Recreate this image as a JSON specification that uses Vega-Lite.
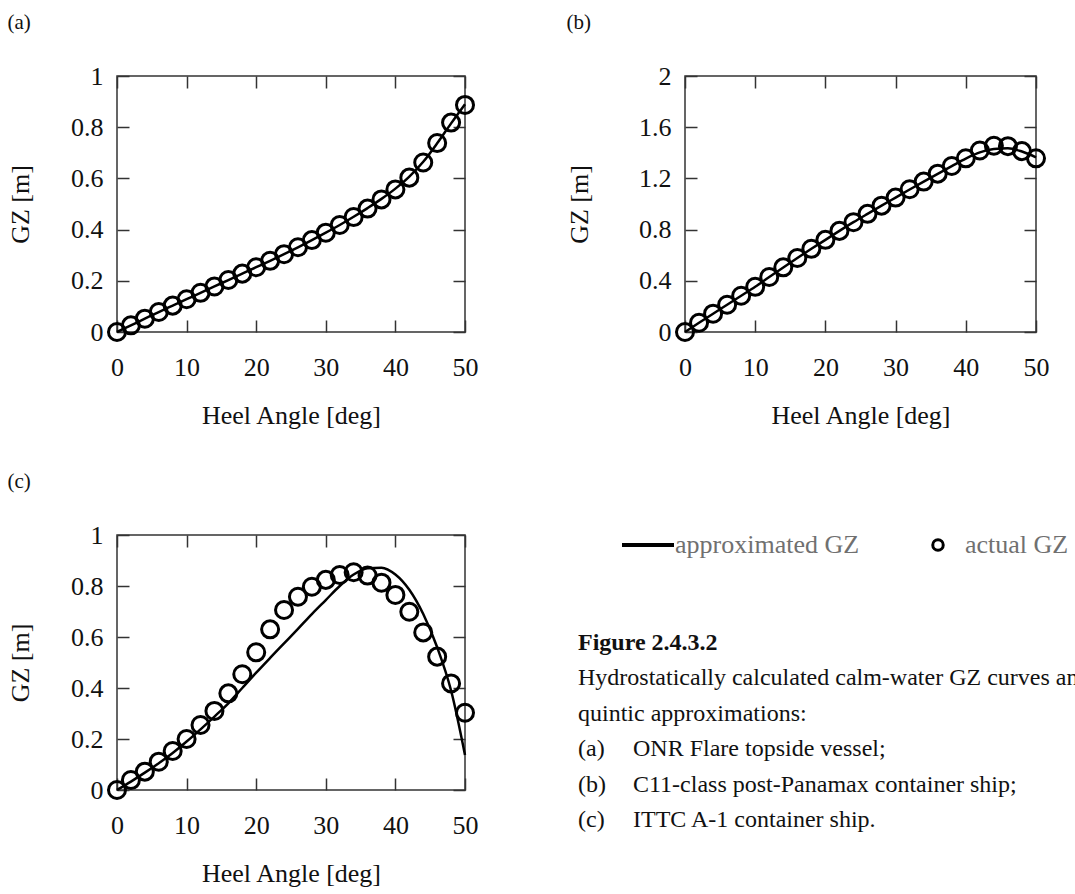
{
  "$schema": "https://vega.github.io/schema/vega-lite/v6.json",
  "padding": {"left": 6, "top": 11, "right": 5, "bottom": 5},
  "background": "white",
  "datasets": {
    "a": [
      {"deg": 0, "actual": 0.0, "approx": 0.0},
      {"deg": 2, "actual": 0.026, "approx": 0.026},
      {"deg": 4, "actual": 0.052, "approx": 0.052},
      {"deg": 6, "actual": 0.078, "approx": 0.078},
      {"deg": 8, "actual": 0.103, "approx": 0.103},
      {"deg": 10, "actual": 0.128, "approx": 0.128},
      {"deg": 12, "actual": 0.153, "approx": 0.153},
      {"deg": 14, "actual": 0.178, "approx": 0.178},
      {"deg": 16, "actual": 0.203, "approx": 0.203},
      {"deg": 18, "actual": 0.228, "approx": 0.228},
      {"deg": 20, "actual": 0.253, "approx": 0.253},
      {"deg": 22, "actual": 0.278, "approx": 0.278},
      {"deg": 24, "actual": 0.304, "approx": 0.304},
      {"deg": 26, "actual": 0.331, "approx": 0.331},
      {"deg": 28, "actual": 0.359, "approx": 0.359},
      {"deg": 30, "actual": 0.388, "approx": 0.388},
      {"deg": 32, "actual": 0.418, "approx": 0.418},
      {"deg": 34, "actual": 0.449, "approx": 0.45},
      {"deg": 36, "actual": 0.482, "approx": 0.484},
      {"deg": 38, "actual": 0.518, "approx": 0.52},
      {"deg": 40, "actual": 0.557, "approx": 0.56},
      {"deg": 42, "actual": 0.603, "approx": 0.607},
      {"deg": 44, "actual": 0.662, "approx": 0.665},
      {"deg": 46, "actual": 0.738, "approx": 0.737},
      {"deg": 48, "actual": 0.818, "approx": 0.815},
      {"deg": 50, "actual": 0.887, "approx": 0.89}
    ],
    "b": [
      {"deg": 0, "actual": 0.0, "approx": 0.0},
      {"deg": 2, "actual": 0.072, "approx": 0.072},
      {"deg": 4, "actual": 0.143, "approx": 0.143},
      {"deg": 6, "actual": 0.213, "approx": 0.213},
      {"deg": 8, "actual": 0.283, "approx": 0.283},
      {"deg": 10, "actual": 0.353, "approx": 0.353},
      {"deg": 12, "actual": 0.43, "approx": 0.429},
      {"deg": 14, "actual": 0.505, "approx": 0.504},
      {"deg": 16, "actual": 0.578, "approx": 0.578},
      {"deg": 18, "actual": 0.65, "approx": 0.65},
      {"deg": 20, "actual": 0.72, "approx": 0.72},
      {"deg": 22, "actual": 0.79, "approx": 0.79},
      {"deg": 24, "actual": 0.858, "approx": 0.858},
      {"deg": 26, "actual": 0.923, "approx": 0.923},
      {"deg": 28, "actual": 0.987, "approx": 0.987},
      {"deg": 30, "actual": 1.05, "approx": 1.05},
      {"deg": 32, "actual": 1.115, "approx": 1.113},
      {"deg": 34, "actual": 1.175, "approx": 1.175},
      {"deg": 36, "actual": 1.237, "approx": 1.236},
      {"deg": 38, "actual": 1.297, "approx": 1.296},
      {"deg": 40, "actual": 1.357, "approx": 1.355},
      {"deg": 42, "actual": 1.418, "approx": 1.403},
      {"deg": 44, "actual": 1.455, "approx": 1.43},
      {"deg": 46, "actual": 1.452, "approx": 1.435},
      {"deg": 48, "actual": 1.413, "approx": 1.41},
      {"deg": 50, "actual": 1.357, "approx": 1.365}
    ],
    "c": [
      {"deg": 0, "actual": 0.0, "approx": 0.0},
      {"deg": 2, "actual": 0.039, "approx": 0.033},
      {"deg": 4, "actual": 0.072, "approx": 0.068},
      {"deg": 6, "actual": 0.111, "approx": 0.105},
      {"deg": 8, "actual": 0.153, "approx": 0.145},
      {"deg": 10, "actual": 0.2, "approx": 0.19},
      {"deg": 12, "actual": 0.255, "approx": 0.238},
      {"deg": 14, "actual": 0.31, "approx": 0.288},
      {"deg": 16, "actual": 0.379, "approx": 0.34},
      {"deg": 18, "actual": 0.454, "approx": 0.4},
      {"deg": 20, "actual": 0.54, "approx": 0.46},
      {"deg": 22, "actual": 0.63, "approx": 0.518},
      {"deg": 24, "actual": 0.706, "approx": 0.575},
      {"deg": 26, "actual": 0.758, "approx": 0.632},
      {"deg": 28, "actual": 0.797, "approx": 0.69},
      {"deg": 30, "actual": 0.824, "approx": 0.745},
      {"deg": 32, "actual": 0.843, "approx": 0.8},
      {"deg": 34, "actual": 0.854, "approx": 0.845},
      {"deg": 36, "actual": 0.841, "approx": 0.87},
      {"deg": 38, "actual": 0.813, "approx": 0.872},
      {"deg": 40, "actual": 0.765, "approx": 0.845},
      {"deg": 42, "actual": 0.699, "approx": 0.785},
      {"deg": 44, "actual": 0.618, "approx": 0.69},
      {"deg": 46, "actual": 0.523, "approx": 0.56},
      {"deg": 48, "actual": 0.418, "approx": 0.39},
      {"deg": 50, "actual": 0.303, "approx": 0.137}
    ],
    "caption": [
      {"row": 1, "col": 0, "bold": true, "text": "Figure 2.4.3.2"},
      {"row": 2, "col": 0, "bold": false, "text": "Hydrostatically calculated calm-water GZ curves and"},
      {"row": 3, "col": 0, "bold": false, "text": "quintic approximations:"},
      {"row": 4, "col": 0, "bold": false, "text": "(a)"},
      {"row": 4, "col": 1, "bold": false, "text": "ONR Flare topside vessel;"},
      {"row": 5, "col": 0, "bold": false, "text": "(b)"},
      {"row": 5, "col": 1, "bold": false, "text": "C11-class post-Panamax container ship;"},
      {"row": 6, "col": 0, "bold": false, "text": "(c)"},
      {"row": 6, "col": 1, "bold": false, "text": "ITTC A-1 container ship."}
    ]
  },
  "vconcat": [
    {
      "spacing": 84,
      "hconcat": [
        {
          "title": {"text": "(a)"},
          "width": 348,
          "height": 256,
          "data": {"name": "a"},
          "layer": [
            {
              "mark": {"type": "line", "strokeWidth": 2.5, "interpolate": "monotone"},
              "encoding": {
                "x": {"field": "deg", "type": "quantitative", "scale": {"domain": [0, 50]},
                      "axis": {"orient": "bottom", "title": "Heel Angle [deg]", "values": [0, 10, 20, 30, 40, 50]}},
                "y": {"field": "approx", "type": "quantitative", "scale": {"domain": [0, 1]},
                      "axis": {"orient": "left", "title": "GZ [m]", "values": [0, 0.2, 0.4, 0.6, 0.8, 1], "labelExpr": "datum.value + ''"}},
                "color": {
                  "datum": "approximated GZ", "type": "nominal",
                  "scale": {"domain": ["approximated GZ", "actual GZ"], "range": ["#000000", "#000000"]},
                  "legend": {
                    "orient": "none", "legendX": 518, "legendY": 456, "direction": "horizontal",
                    "title": null, "padding": 0, "labelLimit": 0,
                    "labelFont": "Liberation Serif", "labelFontSize": 26, "labelColor": "#707070",
                    "symbolSize": 2704, "symbolStrokeWidth": 3.5, "labelOffset": 14, "columnPadding": 65,
                    "encode": {
                      "symbols": {
                        "update": {
                          "shape": {"signal": "datum.value === 'actual GZ' ? 'circle' : 'stroke'"},
                          "size": {"signal": "datum.value === 'actual GZ' ? 110 : 2704"},
                          "stroke": {"value": "#000000"},
                          "fill": {"value": "transparent"},
                          "strokeWidth": {"signal": "datum.value === 'actual GZ' ? 3 : 4"},
                          "opacity": {"value": 1}
                        }
                      }
                    }
                  }
                }
              }
            },
            {
              "mark": {"type": "point", "filled": false, "size": 290, "strokeWidth": 3, "opacity": 1},
              "encoding": {
                "x": {"field": "deg", "type": "quantitative",
                      "axis": {"orient": "top", "labels": false, "title": null, "values": [0, 10, 20, 30, 40, 50]}},
                "y": {"field": "actual", "type": "quantitative",
                      "axis": {"orient": "right", "labels": false, "title": null, "values": [0, 0.2, 0.4, 0.6, 0.8, 1]}},
                "color": {"datum": "actual GZ", "type": "nominal"}
              }
            }
          ],
          "resolve": {"axis": {"x": "independent", "y": "independent"}}
        },
        {
          "title": {"text": "(b)"},
          "width": 351,
          "height": 256,
          "data": {"name": "b"},
          "layer": [
            {
              "mark": {"type": "line", "strokeWidth": 2.5, "interpolate": "monotone"},
              "encoding": {
                "x": {"field": "deg", "type": "quantitative", "scale": {"domain": [0, 50]},
                      "axis": {"orient": "bottom", "title": "Heel Angle [deg]", "values": [0, 10, 20, 30, 40, 50]}},
                "y": {"field": "approx", "type": "quantitative", "scale": {"domain": [0, 2]},
                      "axis": {"orient": "left", "title": "GZ [m]", "titlePadding": 46, "values": [0, 0.4, 0.8, 1.2, 1.6, 2], "labelExpr": "datum.value + ''"}},
                "color": {"datum": "approximated GZ", "type": "nominal"}
              }
            },
            {
              "mark": {"type": "point", "filled": false, "size": 290, "strokeWidth": 3, "opacity": 1},
              "encoding": {
                "x": {"field": "deg", "type": "quantitative",
                      "axis": {"orient": "top", "labels": false, "title": null, "values": [0, 10, 20, 30, 40, 50]}},
                "y": {"field": "actual", "type": "quantitative",
                      "axis": {"orient": "right", "labels": false, "title": null, "values": [0, 0.4, 0.8, 1.2, 1.6, 2]}},
                "color": {"datum": "actual GZ", "type": "nominal"}
              }
            }
          ],
          "resolve": {"axis": {"x": "independent", "y": "independent"}}
        }
      ]
    },
    {
      "spacing": 97,
      "hconcat": [
        {
          "title": {"text": "(c)"},
          "width": 348,
          "height": 255,
          "data": {"name": "c"},
          "layer": [
            {
              "mark": {"type": "line", "strokeWidth": 2.5, "interpolate": "monotone"},
              "encoding": {
                "x": {"field": "deg", "type": "quantitative", "scale": {"domain": [0, 50]},
                      "axis": {"orient": "bottom", "title": "Heel Angle [deg]", "values": [0, 10, 20, 30, 40, 50]}},
                "y": {"field": "approx", "type": "quantitative", "scale": {"domain": [0, 1]},
                      "axis": {"orient": "left", "title": "GZ [m]", "values": [0, 0.2, 0.4, 0.6, 0.8, 1], "labelExpr": "datum.value + ''"}},
                "color": {"datum": "approximated GZ", "type": "nominal"}
              }
            },
            {
              "mark": {"type": "point", "filled": false, "size": 290, "strokeWidth": 3, "opacity": 1},
              "encoding": {
                "x": {"field": "deg", "type": "quantitative",
                      "axis": {"orient": "top", "labels": false, "title": null, "values": [0, 10, 20, 30, 40, 50]}},
                "y": {"field": "actual", "type": "quantitative",
                      "axis": {"orient": "right", "labels": false, "title": null, "values": [0, 0.2, 0.4, 0.6, 0.8, 1]}},
                "color": {"datum": "actual GZ", "type": "nominal"}
              }
            }
          ],
          "resolve": {"axis": {"x": "independent", "y": "independent"}}
        },
        {
          "width": 55,
          "height": 303,
          "view": {"stroke": null},
          "data": {"name": "caption"},
          "layer": [
            {
              "transform": [{"filter": "datum.bold"}],
              "mark": {"type": "text", "align": "left", "baseline": "middle", "font": "Liberation Serif", "fontSize": 24, "fontWeight": "bold", "color": "#111111"},
              "encoding": {
                "x": {"field": "col", "type": "quantitative", "scale": {"domain": [0, 1], "nice": false}, "axis": null},
                "y": {"field": "row", "type": "quantitative", "scale": {"domain": [-2.04, 6.5], "reverse": true, "nice": false, "zero": false}, "axis": null},
                "text": {"field": "text"}
              }
            },
            {
              "transform": [{"filter": "!datum.bold"}],
              "mark": {"type": "text", "align": "left", "baseline": "middle", "font": "Liberation Serif", "fontSize": 24, "color": "#111111"},
              "encoding": {
                "x": {"field": "col", "type": "quantitative", "axis": null},
                "y": {"field": "row", "type": "quantitative", "axis": null},
                "text": {"field": "text"}
              }
            }
          ]
        }
      ]
    }
  ],
  "spacing": 41,
  "config": {
    "font": "Liberation Serif",
    "view": {"stroke": "#333333", "strokeWidth": 1.5},
    "title": {"font": "Liberation Serif", "fontSize": 21, "fontWeight": "normal", "color": "#111111", "anchor": "start", "frame": "bounds", "offset": 30},
    "axis": {
      "labelFont": "Liberation Serif", "labelFontSize": 26, "labelColor": "#111111",
      "titleFont": "Liberation Serif", "titleFontSize": 26, "titleFontWeight": "normal", "titleColor": "#111111",
      "grid": false, "domain": false, "ticks": true, "tickColor": "#333333", "tickWidth": 1.5, "tickSize": -12,
      "labelFlush": false, "labelOverlap": false
    },
    "axisBottom": {"labelPadding": 34, "titlePadding": 22},
    "axisLeft": {"labelPadding": 26, "titlePadding": 37}
  }
}
